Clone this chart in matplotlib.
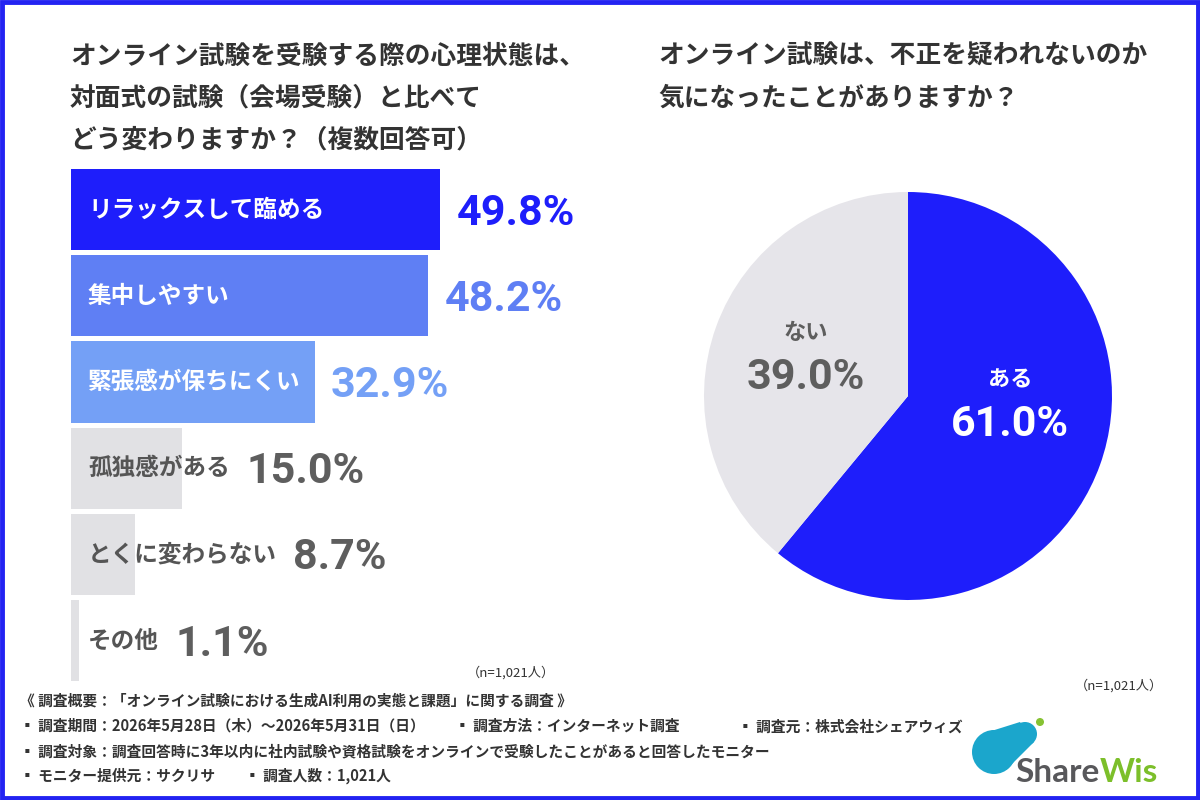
import matplotlib
matplotlib.use("Agg")
import matplotlib.pyplot as plt
from matplotlib.patches import Rectangle, Circle, Polygon

plt.rcParams['font.family'] = ['Noto Sans CJK JP', 'DejaVu Sans']

# data
bar_labels = ["リラックスして臨める", "集中しやすい", "緊張感が保ちにくい",
              "孤独感がある", "とくに変わらない", "その他"]
bar_values = [49.8, 48.2, 32.9, 15.0, 8.7, 1.1]
bar_colors = ["#1E1EFB", "#5F7FF4", "#74A0F6", "#E1E1E4", "#E1E1E4", "#E1E1E4"]
label_colors = ["white", "white", "white", "#555555", "#555555", "#555555"]
value_colors = ["#1E1EFB", "#5F7FF4", "#74A0F6", "#5E5E5E", "#5E5E5E", "#5E5E5E"]

pie_labels = ["ある", "ない"]
pie_values = [61.0, 39.0]
pie_colors = ["#1E1EFB", "#E6E5EA"]
pie_text_colors = ["white", "#5E5E5E"]
pie_text_pos = [(0.5, -0.03), (-0.5, 0.2)]

num_font = ["Roboto", "DejaVu Sans"]

W, H = 1200, 800
fig = plt.figure(figsize=(12, 8), dpi=100)
fig.patch.set_facecolor("white")

# background / overlay axes in pixel coordinates (y down)
bg = fig.add_axes([0, 0, 1, 1])
bg.set_xlim(0, W)
bg.set_ylim(H, 0)
bg.axis("off")
bg.add_patch(Rectangle((2, 2), W - 4, H - 4, fill=False, ec="#2323F2", lw=3.5))

dark = "#333333"
title_l = ["オンライン試験を受験する際の心理状態は、",
           "対面式の試験（会場受験）と比べて",
           "どう変わりますか？（複数回答可）"]
for i, t in enumerate(title_l):
    bg.text(70, 56 + i * 42, t, fontsize=18.5, fontweight="bold", color=dark, va="center")
title_r = ["オンライン試験は、不正を疑われないのか", "気になったことがありますか？"]
for i, t in enumerate(title_r):
    bg.text(658, 56 + i * 42, t, fontsize=18.5, fontweight="bold", color=dark, va="center")

# bar chart
px_per = 7.41
xmax = 60
top, pitch = 166.5, 86.2
n = len(bar_values)
ax = fig.add_axes([71 / W, 1 - (top + n * pitch) / H, xmax * px_per / W, n * pitch / H])
ypos = list(range(n))
ax.barh(ypos, bar_values, height=0.94, color=bar_colors, edgecolor="none")
ax.set_xlim(0, xmax)
ax.set_ylim(n - 0.5, -0.5)
ax.axis("off")

fig.canvas.draw()
renderer = fig.canvas.get_renderer()
for i, (lab, v) in enumerate(zip(bar_labels, bar_values)):
    t = ax.text(2.3, i, lab, fontsize=17, fontweight="bold", color=label_colors[i],
                va="center", ha="left")
    ext = t.get_window_extent(renderer)
    label_end = ax.transData.inverted().transform((ext.x1, 0))[0]
    x0 = max(v, label_end) + 2.2
    ax.text(x0, i + 0.04, f"{v:.1f}%", fontsize=31, fontweight="bold",
            color=value_colors[i], va="center", ha="left", family=num_font)

bg.text(555, 673, "（n=1,021人）", fontsize=9.5, color=dark, ha="right", va="center")

# pie chart
cx, cy, r = 908, 396, 204
pax = fig.add_axes([(cx - r) / W, 1 - (cy + r) / H, 2 * r / W, 2 * r / H])
pax.pie(pie_values, colors=pie_colors, startangle=90, counterclock=False,
        wedgeprops=dict(linewidth=0))
pax.set_aspect("equal")
pax.set_xlim(-1, 1)
pax.set_ylim(-1, 1)

for lab, v, col, (x, y) in zip(pie_labels, pie_values, pie_text_colors, pie_text_pos):
    pax.text(x, y + 0.11, lab, fontsize=16, fontweight="bold", color=col, ha="center", va="center")
    pax.text(x, y - 0.11, f"{v:.1f}%", fontsize=31, fontweight="bold", color=col,
             ha="center", va="center", family=num_font)

bg.text(1163, 686, "（n=1,021人）", fontsize=9.5, color=dark, ha="right", va="center")

# footer
fs = 10.6
bg.text(20, 701, "《 調査概要：「オンライン試験における生成AI利用の実態と課題」に関する調査 》",
        fontsize=fs, fontweight="bold", color=dark, va="center")
bg.text(20, 726, "▪ 調査期間：2026年5月28日（木）～2026年5月31日（日）",
        fontsize=fs, fontweight="bold", color=dark, va="center")
bg.text(455, 726, "▪ 調査方法：インターネット調査",
        fontsize=fs, fontweight="bold", color=dark, va="center")
bg.text(738, 726, "▪ 調査元：株式会社シェアウィズ",
        fontsize=fs, fontweight="bold", color=dark, va="center")
bg.text(20, 751, "▪ 調査対象：調査回答時に3年以内に社内試験や資格試験をオンラインで受験したことがあると回答したモニター",
        fontsize=fs, fontweight="bold", color=dark, va="center")
bg.text(20, 776, "▪ モニター提供元：サクリサ",
        fontsize=fs, fontweight="bold", color=dark, va="center")
bg.text(245, 776, "▪ 調査人数：1,021人",
        fontsize=fs, fontweight="bold", color=dark, va="center")

# ShareWis logo
teal = "#1BA6CC"
bg.add_patch(Circle((994, 752), 22, color=teal, lw=0))
bg.add_patch(Polygon([(985, 733), (1020, 722), (1034, 742), (1006, 770)], color=teal, lw=0))
bg.add_patch(Circle((1025, 734), 12, color=teal, lw=0))
bg.add_patch(Circle((1040, 722), 4, color="#86C232", lw=0))
st = bg.text(1015, 772, "Share", fontsize=24, fontweight="bold", color="#58585B", va="center",
             family=["Lato", "DejaVu Sans"])
fig.canvas.draw()
sx1 = bg.transData.inverted().transform((st.get_window_extent(renderer).x1, 0))[0]
bg.text(sx1, 772, "Wis", fontsize=24, fontweight="bold", color="#7CBF2A", va="center",
        family=["Lato", "DejaVu Sans"])

fig.savefig("out.png", dpi=100, facecolor="white")
